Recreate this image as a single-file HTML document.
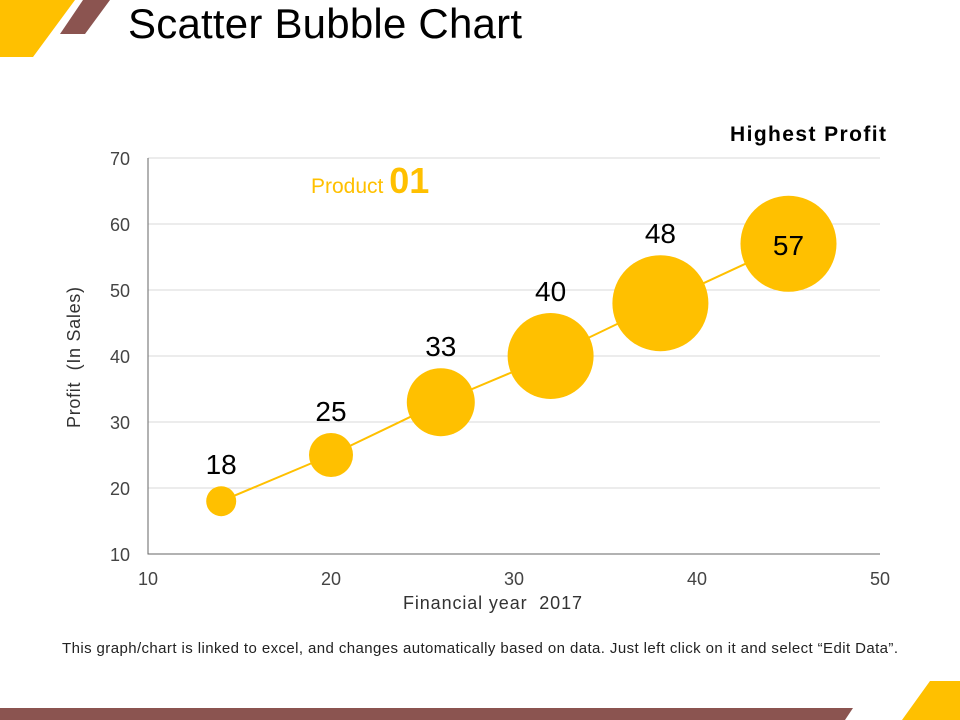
<!DOCTYPE html>
<html><head><meta charset="utf-8"><style>
body{margin:0;width:960px;height:720px;overflow:hidden;background:#fff;font-family:"Liberation Sans",sans-serif;}
text{white-space:pre;}
</style></head><body>
<svg width="960" height="720" style="position:absolute;left:0;top:0">
<polygon points="0,0 75,0 33,57 0,57" fill="#FFC000"/>
<polygon points="83,0 110,0 85,34 60,34" fill="#8B5450"/>
<polygon points="0,708 853,708 845,720 0,720" fill="#8B5450"/>
<polygon points="930,681 960,681 960,720 902,720" fill="#FFC000"/>
<text x="128" y="38" font-size="42" textLength="394" fill="#000">Scatter Bubble Chart</text>
<text x="886" y="141" font-size="21" font-weight="bold" text-anchor="end" textLength="156" fill="#000">Highest Profit</text>
<text x="311" y="193" font-size="21" fill="#FFC000">Product <tspan font-size="36" font-weight="bold">01</tspan></text>
<g id="chart"></g>
<text x="403" y="609" font-size="18" textLength="179" fill="#333">Financial year  2017</text>
<text transform="translate(80,428) rotate(-90)" font-size="18" textLength="141" fill="#333">Profit  (In Sales)</text>
<text x="62" y="653" font-size="15" textLength="836" fill="#222">This graph/chart is linked to excel, and changes automatically based on data. Just left click on it and select “Edit Data”.</text>
</svg>
<script>
const xValues=[14,20,26,32,38,45];
const yValues=[18,25,33,40,48,57];
const bubbleSizes=[15,22,34,43,48,48];
const xTicks=[10,20,30,40,50];
const yTicks=[10,20,30,40,50,60,70];
const NS="http://www.w3.org/2000/svg";
const g=document.getElementById('chart');
const X=v=>148+(v-10)*(880-148)/40;
const Y=v=>554-(v-10)*(554-158)/60;
function mk(t,a){const e=document.createElementNS(NS,t);for(const k in a)e.setAttribute(k,a[k]);g.appendChild(e);return e;}
yTicks.forEach(t=>{
  if(t>10){const l=mk('line',{x1:148,x2:880,y1:Y(t),y2:Y(t),stroke:'#d9d9d9','stroke-width':1});
  
  }
  const tx=mk('text',{x:130,y:Y(t)+7,'font-size':18,'text-anchor':'end',fill:'#444'});tx.textContent=t;
  
  
});
xTicks.forEach(t=>{
  const tx=mk('text',{x:X(t),y:585,'font-size':18,'text-anchor':'middle',fill:'#444'});tx.textContent=t;
  
  
});
const ax=mk('path',{d:`M148,158 V554 H880`,stroke:'#666',fill:'none','stroke-width':1});


const pl=mk('polyline',{points:xValues.map((x,i)=>X(x)+','+Y(yValues[i])).join(' '),stroke:'#FFC000',fill:'none','stroke-width':2});


xValues.forEach((x,i)=>{
  const cx=X(x),cy=Y(yValues[i]),r=bubbleSizes[i];
  const c=mk('circle',{cx:cx,cy:cy,r:r,fill:'#FFC000'});
  
  
  const last=i===xValues.length-1;
  const t=mk('text',{x:cx,y:last?cy+11:cy-r-12,'font-size':28,'text-anchor':'middle',fill:'#000'});
  t.textContent=yValues[i];
  
  
});
</script>
</body></html>
